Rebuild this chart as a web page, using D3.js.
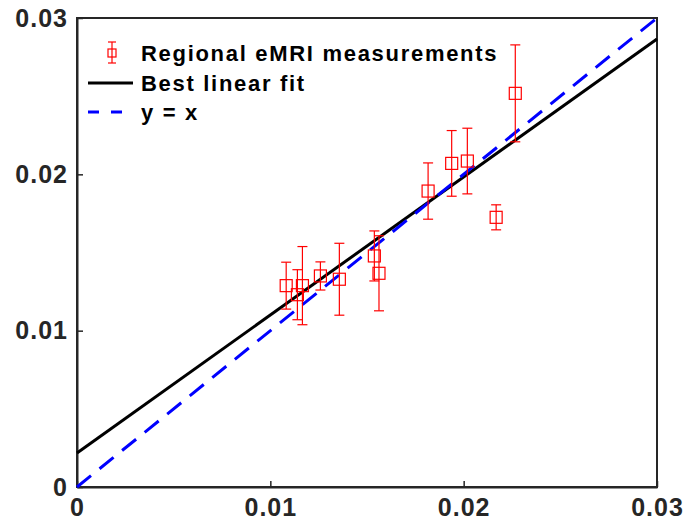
<!DOCTYPE html>
<html>
<head>
<meta charset="utf-8">
<script src="https://cdn.jsdelivr.net/npm/d3@7"></script>
<style>
  body { margin: 0; background: #fff; }
  text { font-family: "Liberation Sans", Arial, sans-serif; font-weight: bold; }
</style>
</head>
<body>
<svg id="chart" width="688" height="529"></svg>
<script>
// measured vs reference values
var xVals = [0.01082, 0.0114, 0.01166, 0.01259, 0.01357, 0.01538, 0.01562, 0.01816, 0.01938, 0.02019, 0.02168, 0.02267];
var yVals = [0.01288, 0.0123, 0.01288, 0.0135, 0.01329, 0.01478, 0.01367, 0.01893, 0.0207, 0.02085, 0.01725, 0.02518];
var yErr  = [0.0015, 0.0016, 0.0025, 0.0009, 0.0023, 0.0016, 0.0024, 0.0018, 0.0021, 0.0021, 0.0008, 0.0031];
var fitSlope = 0.883;
var fitIntercept = 0.00217;
var tickVals = [0, 0.01, 0.02, 0.03];
var tickLabels = ["0", "0.01", "0.02", "0.03"];
var legendLabels = ["Regional eMRI measurements", "Best linear fit", "y = x"];

var svg = d3.select("#chart");
var m = { left: 77, right: 657, top: 18, bottom: 487 };

var x = d3.scaleLinear().domain([0, 0.03]).range([m.left, m.right]);
var y = d3.scaleLinear().domain([0, 0.03]).range([m.bottom, m.top]);

var axisColor = "#262626";

// box
svg.append("rect")
  .attr("x", m.left).attr("y", m.top)
  .attr("width", m.right - m.left).attr("height", m.bottom - m.top)
  .attr("fill", "none").attr("stroke", axisColor).attr("stroke-width", 2);

var fmt = function(d, i) { return tickLabels[i]; };

var xAxis = svg.append("g")
  .attr("transform", "translate(0," + m.bottom + ")")
  .call(d3.axisBottom(x).tickValues(tickVals).tickFormat(fmt).tickSizeInner(-6).tickSizeOuter(0).tickPadding(11));
var yAxis = svg.append("g")
  .attr("transform", "translate(" + m.left + ",0)")
  .call(d3.axisLeft(y).tickValues(tickVals).tickFormat(fmt).tickSizeInner(-6).tickSizeOuter(0).tickPadding(9));

[xAxis, yAxis].forEach(function(a) {
  a.select(".domain").attr("stroke", axisColor).attr("stroke-width", 2);
  a.selectAll(".tick line").attr("stroke", axisColor).attr("stroke-width", 1.5);
  a.selectAll(".tick text").attr("fill", axisColor)
    .style("font-size", "25px").style("letter-spacing", "1px");
});

// lines
var plot = svg.append("g");
plot.append("line")
  .attr("x1", x(0)).attr("y1", y(fitIntercept))
  .attr("x2", x(0.03)).attr("y2", y(fitIntercept + fitSlope * 0.03))
  .attr("stroke", "#000").attr("stroke-width", 3);
plot.append("line")
  .attr("x1", x(0)).attr("y1", y(0))
  .attr("x2", x(0.03)).attr("y2", y(0.03))
  .attr("stroke", "#0000ff").attr("stroke-width", 3)
  .attr("stroke-dasharray", "18,11");

// error bars + markers
var red = "#ff0000";
var pts = plot.selectAll("g.pt")
  .data(xVals.map(function(v, i) { return { x: v, y: yVals[i], e: yErr[i] }; }))
  .enter().append("g").attr("class", "pt");

pts.append("line")
  .attr("x1", function(d) { return x(d.x); }).attr("x2", function(d) { return x(d.x); })
  .attr("y1", function(d) { return y(d.y + d.e); }).attr("y2", function(d) { return y(d.y - d.e); })
  .attr("stroke", red).attr("stroke-width", 1.2);
pts.append("line")
  .attr("x1", function(d) { return x(d.x) - 5; }).attr("x2", function(d) { return x(d.x) + 5; })
  .attr("y1", function(d) { return y(d.y + d.e); }).attr("y2", function(d) { return y(d.y + d.e); })
  .attr("stroke", red).attr("stroke-width", 1.2);
pts.append("line")
  .attr("x1", function(d) { return x(d.x) - 5; }).attr("x2", function(d) { return x(d.x) + 5; })
  .attr("y1", function(d) { return y(d.y - d.e); }).attr("y2", function(d) { return y(d.y - d.e); })
  .attr("stroke", red).attr("stroke-width", 1.2);
pts.append("rect")
  .attr("x", function(d) { return x(d.x) - 6; }).attr("y", function(d) { return y(d.y) - 6; })
  .attr("width", 12).attr("height", 12)
  .attr("fill", "none").attr("stroke", red).attr("stroke-width", 1.2);

// legend
var lg = svg.append("g");
var rows = [53, 83, 112];
// marker entry
lg.append("line").attr("x1", 112).attr("x2", 112).attr("y1", 42).attr("y2", 63)
  .attr("stroke", red).attr("stroke-width", 1.2);
lg.append("line").attr("x1", 108).attr("x2", 116).attr("y1", 42).attr("y2", 42)
  .attr("stroke", red).attr("stroke-width", 1.2);
lg.append("line").attr("x1", 108).attr("x2", 116).attr("y1", 63).attr("y2", 63)
  .attr("stroke", red).attr("stroke-width", 1.2);
lg.append("rect").attr("x", 108).attr("y", 49).attr("width", 8).attr("height", 8)
  .attr("fill", "none").attr("stroke", red).attr("stroke-width", 1.2);
lg.append("line").attr("x1", 88).attr("x2", 133).attr("y1", rows[1]).attr("y2", rows[1])
  .attr("stroke", "#000").attr("stroke-width", 3);
lg.append("line").attr("x1", 88).attr("x2", 133).attr("y1", rows[2]).attr("y2", rows[2])
  .attr("stroke", "#0000ff").attr("stroke-width", 3).attr("stroke-dasharray", "11,12");
lg.selectAll("text.lab").data(legendLabels).enter().append("text")
  .attr("class", "lab")
  .attr("x", 141).attr("y", function(d, i) { return rows[i]; })
  .attr("dy", "0.35em")
  .style("font-size", "22px").style("letter-spacing", "1.7px")
  .attr("fill", "#000")
  .text(function(d) { return d; });
</script>
</body>
</html>
